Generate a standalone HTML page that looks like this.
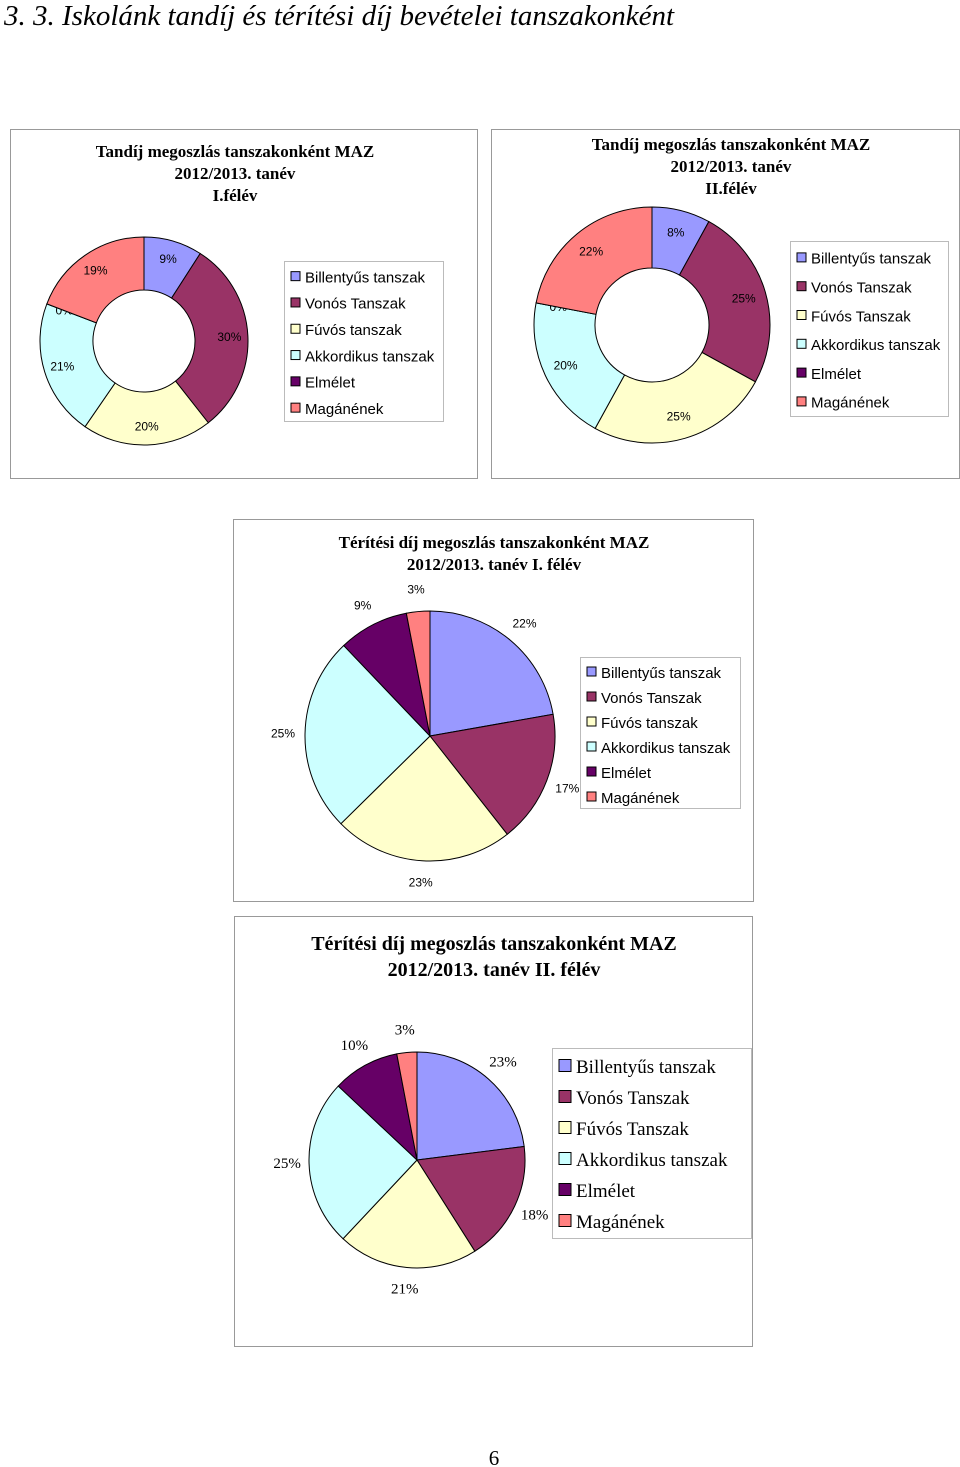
<!DOCTYPE html>
<html><head><meta charset="utf-8">
<style>
body{margin:0;background:#fff;width:960px;height:1467px;position:relative;overflow:hidden}
svg{position:absolute;left:0;top:0}
</style></head>
<body>
<svg id="s" width="960" height="1467">
<text x="4" y="25" font-family="Liberation Serif, serif" font-style="italic" font-size="29">3. 3. Iskolánk tandíj és térítési díj bevételei tanszakonként</text>
<text x="494" y="1465" text-anchor="middle" font-family="Liberation Serif, serif" font-size="21">6</text>
</svg>
<script>
const categories1 = ["Billentyűs tanszak","Vonós Tanszak","Fúvós tanszak","Akkordikus tanszak","Elmélet","Magánének"];
const categories2 = ["Billentyűs tanszak","Vonós Tanszak","Fúvós Tanszak","Akkordikus tanszak","Elmélet","Magánének"];
const values1 = [9,30,20,21,0,19];
const values2 = [8,25,25,20,0,22];
const values3 = [22,17,23,25,9,3];
const values4 = [23,18,21,25,10,3];
const colors = ["#9999FF","#993366","#FFFFCC","#CCFFFF","#660066","#FF8080"];

const NS="http://www.w3.org/2000/svg";
const svg=document.getElementById('s');
function mk(tag,attrs,parent){const e=document.createElementNS(NS,tag);for(const k in attrs)e.setAttribute(k,attrs[k]);(parent||svg).appendChild(e);return e;}

const charts=[
 {name:'tandij-1',box:[10,129,467,349],title:["Tandíj megoszlás tanszakonként MAZ","2012/2013. tanév","I.félév"],tx:235,ty:157,tfs:17,tlh:22,
  cats:categories1,vals:values1,cx:144,cy:341,r:104,ri:51,lab:'in',lfs:12,lfont:"Liberation Sans, sans-serif",
  leg:[284,261,159,160],legfs:15,legrow:26.3},
 {name:'tandij-2',box:[491,129,468,349],title:["Tandíj megoszlás tanszakonként MAZ","2012/2013. tanév","II.félév"],tx:731,ty:150,tfs:17,tlh:22,
  cats:categories2,vals:values2,cx:652,cy:325,r:118,ri:57,lab:'in',lfs:12,lfont:"Liberation Sans, sans-serif",
  leg:[790,241,158,175],legfs:15,legrow:28.8},
 {name:'teritesi-1',box:[233,519,520,382],title:["Térítési díj megoszlás tanszakonként MAZ","2012/2013. tanév I. félév"],tx:494,ty:548,tfs:17,tlh:22,
  cats:categories1,vals:values3,cx:430,cy:736,r:125,ri:0,lab:'out',lfs:12,lfont:"Liberation Sans, sans-serif",
  leg:[580,657,160,151],legfs:15,legrow:25},
 {name:'teritesi-2',box:[234,916,518,430],title:["Térítési díj megoszlás tanszakonként MAZ","2012/2013. tanév II. félév"],tx:494,ty:950,tfs:20,tlh:26,
  cats:categories2,vals:values4,cx:417,cy:1160,r:108,ri:0,lab:'out',lfs:15,lfont:"Liberation Serif, serif",
  leg:[552,1048,199,190],legfs:19,legrow:31}
];

function pt(cx,cy,r,a){return [cx+r*Math.sin(a),cy-r*Math.cos(a)];}

charts.forEach(c=>{
  const g=mk('g',{});
  
  
  const fr=mk('rect',{x:c.box[0]+.5,y:c.box[1]+.5,width:c.box[2],height:c.box[3],fill:'#fff',stroke:'#999','stroke-width':1},g);
  
  
  c.title.forEach((t,i)=>{
    const te=mk('text',{x:c.tx,y:c.ty+i*c.tlh,'text-anchor':'middle','font-family':'Liberation Serif, serif','font-weight':'bold','font-size':c.tfs},g);
    te.textContent=t;
    
    
  });
  const total=c.vals.reduce((a,b)=>a+b,0);
  let acc=0;
  c.vals.forEach((v,i)=>{
    const a0=acc/total*2*Math.PI; acc+=v; const a1=acc/total*2*Math.PI;
    const large=(a1-a0)>Math.PI?1:0;
    const [x0,y0]=pt(c.cx,c.cy,c.r,a0),[x1,y1]=pt(c.cx,c.cy,c.r,a1);
    let d;
    if(c.ri>0){
      const [ix0,iy0]=pt(c.cx,c.cy,c.ri,a0),[ix1,iy1]=pt(c.cx,c.cy,c.ri,a1);
      d=`M${x0},${y0}A${c.r},${c.r} 0 ${large} 1 ${x1},${y1}L${ix1},${iy1}A${c.ri},${c.ri} 0 ${large} 0 ${ix0},${iy0}Z`;
    } else d=`M${c.cx},${c.cy}L${x0},${y0}A${c.r},${c.r} 0 ${large} 1 ${x1},${y1}Z`;
    const p=mk('path',{d:d,fill:colors[i],stroke:'#000','stroke-width':1},g);
    
    
    const am=(a0+a1)/2;
    const lr=c.lab==='in'?(c.r+c.ri)/2+8:c.r+22;
    const [lx,ly]=pt(c.cx,c.cy,lr,am);
    const lt=mk('text',{x:lx,y:ly+4,'text-anchor':'middle','font-family':c.lfont,'font-size':c.lfs,fill:'#000'},g);
    lt.textContent=v+'%';
    
    
  });
  const [lx,ly,lw,lh]=c.leg;
  const lg=mk('g',{},g);
  
  
  mk('rect',{x:lx+.5,y:ly+.5,width:lw,height:lh,fill:'#fff',stroke:'#bbb'},lg);
  const sw=Math.round(c.legfs*0.62);
  c.cats.forEach((cat,i)=>{
    const yy=ly+c.legrow*(i+0.5)+3;
    const e=mk('g',{},lg);
    
    
    mk('rect',{x:lx+7,y:yy-sw/2-1,width:sw,height:sw,fill:colors[i],stroke:'#000','stroke-width':1},e);
    const t=mk('text',{x:lx+8+sw+4,y:yy+c.legfs*0.35,'font-family':c.lfont==='Liberation Serif, serif'?'Liberation Serif, serif':'Liberation Sans, sans-serif','font-size':c.legfs},e);
    t.textContent=cat;
  });
});
</script>
</body></html>
